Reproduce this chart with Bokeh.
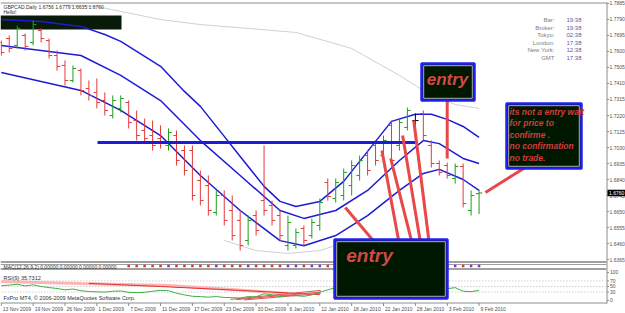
from bokeh.plotting import figure
from bokeh.models import Range1d, BoxAnnotation
from bokeh.embed import file_html
from bokeh.resources import INLINE
from bokeh.core.properties import value

# ---------------- data ----------------
date_labels = ["13 Nov 2009", "19 Nov 2009", "26 Nov 2009", "1 Dec 2009", "7 Dec 2009",
               "11 Dec 2009", "17 Dec 2009", "23 Dec 2009", "30 Dec 2009", "6 Jan 2010",
               "12 Jan 2010", "18 Jan 2010", "22 Jan 2010", "28 Jan 2010", "3 Feb 2010",
               "9 Feb 2010"]
date_bars = [0, 4, 8, 12, 16, 20, 24, 28, 32, 36, 40, 44, 48, 52, 56, 60]
price_ticks = [1.7885, 1.7790, 1.7695, 1.7600, 1.7505, 1.7410, 1.7315, 1.7220, 1.7125,
               1.7030, 1.6935, 1.6840, 1.6745, 1.6650, 1.6555, 1.6460, 1.6365]
rsi_levels = [100, 70, 50, 30, 0]
last_price = 1.6760

opens = [1.7653, 1.7677, 1.7636, 1.7695, 1.7653, 1.7725, 1.7665, 1.7576, 1.7517, 1.7428,
         1.7487, 1.7380, 1.7357, 1.7309, 1.7220, 1.7262, 1.7297, 1.7190, 1.7131, 1.7101,
         1.7083, 1.7042, 1.7101, 1.7012, 1.7012, 1.6834, 1.6804, 1.6644, 1.6745, 1.6656,
         1.6597, 1.6478, 1.6626, 1.6715, 1.6686, 1.6626, 1.6448, 1.6448, 1.6549, 1.6507,
         1.6567, 1.6822, 1.6727, 1.6745, 1.6804, 1.6864, 1.6982, 1.7042, 1.6982, 1.7161,
         1.7042, 1.7149, 1.7190, 1.7232, 1.7042, 1.6935, 1.6923, 1.6846, 1.6917, 1.6656,
         1.6756]
highs = [1.7665, 1.7695, 1.7754, 1.7707, 1.7784, 1.7737, 1.7677, 1.7606, 1.7547, 1.7517,
         1.7499, 1.7428, 1.7440, 1.7357, 1.7339, 1.7339, 1.7309, 1.7250, 1.7202, 1.7190,
         1.7161, 1.7143, 1.7131, 1.7042, 1.7042, 1.6893, 1.6864, 1.6775, 1.6775, 1.6745,
         1.6656, 1.6626, 1.6656, 1.7042, 1.6715, 1.6656, 1.6626, 1.6549, 1.6567, 1.6608,
         1.6727, 1.6846, 1.6846, 1.6905, 1.6953, 1.6982, 1.7012, 1.7072, 1.7101, 1.7190,
         1.7202, 1.7267, 1.7232, 1.7250, 1.7072, 1.6953, 1.6941, 1.6935, 1.6935, 1.6775,
         1.6779]
lows = [1.7576, 1.7594, 1.7618, 1.7606, 1.7636, 1.7653, 1.7558, 1.7487, 1.7398, 1.7416,
        1.7339, 1.7309, 1.7262, 1.7220, 1.7202, 1.7238, 1.7143, 1.7072, 1.7060, 1.7012,
        1.7024, 1.7012, 1.6923, 1.6864, 1.6715, 1.6686, 1.6626, 1.6626, 1.6567, 1.6478,
        1.6418, 1.6448, 1.6507, 1.6626, 1.6567, 1.6478, 1.6418, 1.6430, 1.6448, 1.6490,
        1.6537, 1.6715, 1.6703, 1.6715, 1.6745, 1.6834, 1.6864, 1.6923, 1.6953, 1.6923,
        1.7012, 1.7131, 1.7089, 1.7072, 1.6911, 1.6864, 1.6846, 1.6816, 1.6674, 1.6626,
        1.6635]
closes = [1.7594, 1.7618, 1.7737, 1.7630, 1.7760, 1.7677, 1.7576, 1.7511, 1.7428, 1.7499,
          1.7368, 1.7339, 1.7297, 1.7250, 1.7309, 1.7321, 1.7178, 1.7101, 1.7083, 1.7042,
          1.7054, 1.7119, 1.6953, 1.6893, 1.6745, 1.6715, 1.6656, 1.6745, 1.6597, 1.6507,
          1.6448, 1.6597, 1.6537, 1.6656, 1.6597, 1.6507, 1.6585, 1.6525, 1.6478, 1.6585,
          1.6703, 1.6739, 1.6822, 1.6882, 1.6923, 1.6953, 1.6893, 1.6953, 1.7072, 1.6953,
          1.7178, 1.7250, 1.7190, 1.7101, 1.6935, 1.6882, 1.6864, 1.6917, 1.6697, 1.6745,
          1.6760]

band_x = [0, 5, 10, 13, 15, 18, 20, 23, 25, 28, 30, 33, 35, 37, 40, 43, 46, 49, 52, 54, 56, 58, 60]
band_upper = [1.7790, 1.7778, 1.7749, 1.7701, 1.7660, 1.7571, 1.7512, 1.7363, 1.7274, 1.7096,
              1.6977, 1.6799, 1.6710, 1.6680, 1.6710, 1.6829, 1.7007, 1.7185, 1.7227, 1.7227,
              1.7197, 1.7155, 1.7090]
band_mid_x = [0, 10, 15, 20, 25, 30, 35, 38, 42, 46, 50, 53, 55, 58, 60]
band_mid = [1.7636, 1.7576, 1.7458, 1.7309, 1.7071, 1.6864, 1.6656, 1.6609, 1.6656, 1.6775,
            1.6953, 1.7071, 1.7053, 1.6965, 1.6935]
band_low = [1.7475, 1.7369, 1.7250, 1.7101, 1.6864, 1.6656, 1.6477, 1.6447, 1.6507, 1.6626,
            1.6775, 1.6876, 1.6900, 1.6840, 1.6775]
env_up_x = [8, 12, 15, 20, 25, 31, 37, 44, 50, 54, 57, 60]
env_up = [1.7873, 1.7867, 1.7838, 1.7790, 1.7760, 1.7737, 1.7713, 1.7618, 1.7458, 1.7339,
          1.7285, 1.7262]
env_low_x = [28, 32, 36, 40, 44]
env_low = [1.6478, 1.6418, 1.6401, 1.6418, 1.6478]

rsi_values = [53, 55, 58, 52, 56, 50, 46, 43, 38, 41, 35, 32, 31, 30, 33, 34, 29, 28, 29, 33,
              36, 35, 26, 20, 15, 14, 12, 14, 11, 10, 9, 14, 13, 24, 20, 14, 18, 17, 15, 20,
              30, 38, 46, 52, 58, 60, 56, 60, 66, 60, 70, 74, 72, 62, 50, 45, 42, 46, 33, 32,
              35.7312]
rsi_pink_x = [0, 10, 21, 29, 36]
rsi_pink = [68, 61, 54, 39, 25]
rsi_red_x = [11, 20, 30, 40]
rsi_red = [61, 50, 36, 21]
fan_x0 = [28.8, 29.5, 30.5]
fan_y0 = [4, 3, 2]
fan_x1 = [40.1, 40.1, 40.1]
fan_y1 = [36, 30, 25]

trend_x0 = [43.2, 47.8, 48.9, 50.4, 51.8, 56.0, 66.2]
trend_y0 = [1.6674, 1.7012, 1.6965, 1.7101, 1.7190, 1.7327, 1.6923]
trend_x1 = [46.7, 49.9, 51.5, 52.6, 53.7, 56.0, 60.8]
trend_y1 = [1.6478, 1.6478, 1.6478, 1.6478, 1.6478, 1.6965, 1.6763]

# ---------------- figure ----------------
W, H = 625, 313
p = figure(width=W, height=H, output_backend="svg", toolbar_location=None,
           x_range=Range1d(-0.1, 78.39), y_range=Range1d(1.60444, 1.79028),
           x_axis_location=None, y_axis_location=None,
           min_border_left=0, min_border_top=0, min_border_bottom=0, min_border_right=0)
p.extra_y_ranges = {"rsi": Range1d(-46.43, 1071.43), "px": Range1d(313, 0)}
p.extra_x_ranges = {"px": Range1d(0, 625)}
p.grid.visible = False
p.outline_line_color = None
p.background_fill_color = "white"
p.border_fill_color = "white"

FONT = "Liberation Sans"
AXC = "#8c8c8c"


def txt(x, y, t, size, color, style="normal", align="left", xr="px", yr="px", xoff=0):
    p.text(x=x, y=y, text=t, x_range_name=xr, y_range_name=yr, x_offset=xoff,
           text_font=value(FONT), text_font_size=size, text_color=color,
           text_font_style=style, text_align=align, text_baseline="middle")


# ---- background objects ----
p.add_layout(BoxAnnotation(left=0, right=121, top=15, bottom=29, x_range_name="px", y_range_name="px",
                           fill_color="#0a1a0a", fill_alpha=1, line_color=None, level="underlay"))

# frame lines
p.line([0, 606.5], [2.5, 2.5], x_range_name="px", y_range_name="px", line_color=AXC, line_width=1)
p.line([606.5, 606.5], [2, 303], x_range_name="px", y_range_name="px", line_color=AXC, line_width=1)
p.line([0, 606.5], [302.5, 302.5], x_range_name="px", y_range_name="px", line_color=AXC, line_width=1)
for yy, lw in [(261.5, 2), (264, 1), (268.5, 2)]:
    p.line([0, 606], [yy, yy], x_range_name="px", y_range_name="px", line_color="#a0a0a0", line_width=lw)

for lv in [70, 50, 30]:
    p.line([-1, 75.9], [lv, lv], y_range_name="rsi", line_color="#b8b8b8", line_dash="1 2", line_width=1)

# ---- envelopes / bands ----
p.line(env_up_x, env_up, line_color="#d0d0d0", line_width=1)
p.line(env_low_x, env_low, line_color="#d0d0d0", line_width=1)
p.line(band_x, band_upper, line_color="#1c1cd8", line_width=1.5)
p.line(band_mid_x, band_mid, line_color="#1c1cd8", line_width=1.5)
p.line(band_mid_x, band_low, line_color="#1c1cd8", line_width=1.5)

# ---- OHLC bars ----
idx = list(range(len(closes)))
cols = ["#1e9e1e" if c > o else ("#e23a3a" if c < o else "#000000") for o, c in zip(opens, closes)]
p.segment(x0=idx, y0=lows, x1=idx, y1=highs, line_color=cols, line_width=1)
p.segment(x0=[i - 0.4 for i in idx], y0=opens, x1=idx, y1=opens, line_color=cols, line_width=1)
p.segment(x0=idx, y0=closes, x1=[i + 0.4 for i in idx], y1=closes, line_color=cols, line_width=1)

# strip markers per bar
sx = [i for i in idx if i >= 16]
p.scatter(sx, [265.5] * len(sx), y_range_name="px", marker="square", size=2.5, line_color=None,
          fill_color=["#e03030" if closes[i] < opens[i] else "#8a2be2" for i in sx])

# ---- horizontal blue line ----
p.line([97, 415], [142, 142], x_range_name="px", y_range_name="px", line_color="#1c1cd8", line_width=3)

# ---- rsi ----
p.line(rsi_pink_x, rsi_pink, y_range_name="rsi", line_color="#ffb4b4", line_width=3)
p.line(rsi_red_x, rsi_red, y_range_name="rsi", line_color="#e03030", line_width=1)
for a, b, c, d in zip(fan_x0, fan_y0, fan_x1, fan_y1):
    p.line([a, c], [b, d], y_range_name="rsi", line_color="#e05050", line_width=1)
p.line(idx, rsi_values, y_range_name="rsi", line_color="#40b040", line_width=1)

# ---- red trend lines ----
for a, b, c, d in zip(trend_x0, trend_y0, trend_x1, trend_y1):
    p.line([a, c], [b, d], line_color="#e84848", line_width=3)


# ---- boxes (drawn as glyphs so their text lies on top) ----
def box(l, r, t, b):
    p.quad(left=[l], right=[r], top=[t], bottom=[b], x_range_name="px", y_range_name="px",
           fill_color="#001800", line_color="#2020f0", line_width=2.5)
    p.quad(left=[l + 2.2], right=[r - 2.2], top=[t + 2.2], bottom=[b - 2.2],
           x_range_name="px", y_range_name="px", fill_alpha=0, line_color="#d8d8f0", line_width=0.8)


box(421, 474, 63, 100)
box(506, 581, 103, 168)
box(334, 447, 239, 298)

txt([447], [79], ["entry"], "17px", "#d04848", "bold italic", "center")
txt([369], [255], ["entry"], "19px", "#d04848", "bold italic", "center")
msg = ["its not a entry wait", " for price  to", "confirme .", "no confirmation", "no trade."]
txt([509] * len(msg), [111 + k * 11.5 for k in range(len(msg))], msg, "8.5px", "#d03c3c", "bold italic")

txt([3], [6], ["GBPCAD,Daily  1.6756 1.6779 1.6635 1.6760"], "5px", "#303030")
txt([3], [11.5], ["Hello!"], "5px", "#303030")
txt([3], [266], ["MAC(12,26,9,2) 0.00000 0.00000 0.00000 0.00000"], "5px", "#303030")
txt([3], [277], ["RSI(9) 35.7312"], "5.5px", "#303030")
txt([3], [297], ["FxPro MT4, \u00a9 2006-2009 MetaQuotes Software Corp."], "5.5px", "#303030")

info_l = ["Bar:", "Broker:", "Tokyo:", "London:", "New York:", "GMT"]
info_v = ["19:38", "19:38", "02:38", "17:38", "12:38", "17:38"]
txt([554] * 6, [19.5 + k * 7.6 for k in range(6)], info_l, "6px", "#808080", "normal", "right")
txt([566] * 6, [19.5 + k * 7.6 for k in range(6)], info_v, "6px", "#5a5aa0")

# ---- right price scale ----
p.segment(x0=[606.5] * len(price_ticks), y0=price_ticks, x1=[608.5] * len(price_ticks), y1=price_ticks,
          x_range_name="px", line_color=AXC, line_width=1)
txt([609] * len(price_ticks), price_ticks, [f"{t:.4f}" for t in price_ticks], "5px", "#505050",
    yr="default")
p.segment(x0=[606.5] * len(rsi_levels), y0=rsi_levels, x1=[608.5] * len(rsi_levels), y1=rsi_levels,
          x_range_name="px", y_range_name="rsi", line_color=AXC, line_width=1)
txt([609.5] * len(rsi_levels), rsi_levels, [str(r) for r in rsi_levels], "5px", "#505050", yr="rsi")

# current price marker
p.quad(left=[607], right=[625], top=[last_price + 0.0019], bottom=[last_price - 0.0019],
       x_range_name="px", fill_color="black", line_color=None)
txt([608.5], [last_price], [f"{last_price:.4f}"], "5px", "white", yr="default")

# ---- time scale ----
p.segment(x0=date_bars, y0=[302.5] * len(date_bars), x1=date_bars, y1=[305.5] * len(date_bars),
          y_range_name="px", line_color=AXC, line_width=1)
txt(date_bars, [308.5] * len(date_bars), date_labels, "5px", "#505050", xr="default", xoff=1.5)

open("out.html", "w").write(file_html(p, INLINE))
